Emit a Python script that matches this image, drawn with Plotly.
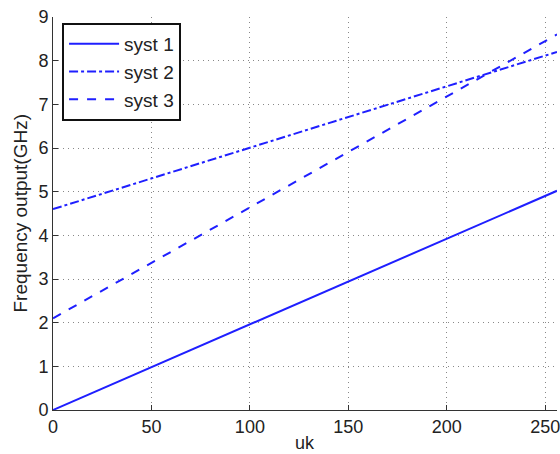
import plotly.graph_objects as go

uk = [0, 50, 100, 150, 200, 256]
syst1 = [0.0, 0.98, 1.96, 2.94, 3.92, 5.02]
syst2 = [4.6, 5.3, 6.0, 6.7, 7.4, 8.2]
syst3 = [2.1, 3.37, 4.64, 5.91, 7.18, 8.6]
names = ["syst 1", "syst 2", "syst 3"]
dashes = ["solid", "dashdot", "dash"]
xticks = [0, 50, 100, 150, 200, 250]
yticks = list(range(0, 10))
xlabel = "uk"
ylabel = "Frequency output(GHz)"

fig = go.Figure()
for nm, ys, d in zip(names, [syst1, syst2, syst3], dashes):
    fig.add_trace(go.Scatter(x=uk, y=ys, mode="lines", name=nm, legendgroup=nm,
                             line=dict(color="#1f1fff", width=2, dash=d)))

fam = "Liberation Sans, Arial, sans-serif"
tickfont = dict(family=fam, size=18, color="#222")
axis_common = dict(showline=True, linecolor="#333", linewidth=1, ticks="inside",
                   ticklen=5, tickcolor="#333", showgrid=True, gridcolor="#888",
                   griddash="1px,4px", gridwidth=1, zeroline=False, mirror=False,
                   tickfont=tickfont, automargin=False, ticklabeloverflow="allow")
L, R, T, B = 53, 3, 17, 44
pw, ph = 560 - L - R, 454 - T - B
fig.update_layout(
    width=560, height=454,
    margin=dict(l=L, r=R, t=T, b=B),
    paper_bgcolor="white", plot_bgcolor="white",
    font=dict(family=fam, size=18, color="#222"),
    showlegend=True,
    legend=dict(x=0.018, y=0.985, xanchor="left", yanchor="top",
                bgcolor="white", bordercolor="#111", borderwidth=2,
                font=dict(family=fam, size=19, color="#222"),
                tracegroupgap=0, itemwidth=50),
    xaxis=dict(range=[0, 256], tickvals=xticks, **axis_common),
    yaxis=dict(range=[0, 9], tickvals=yticks, **axis_common),
    annotations=[
        dict(text=xlabel, xref="paper", yref="paper", x=0.5, y=-(B + 1) / ph,
             xanchor="center", yanchor="bottom", showarrow=False,
             font=dict(family=fam, size=18, color="#222")),
        dict(text=ylabel, xref="paper", yref="paper", x=(20 - L) / pw, y=0.5,
             xanchor="center", yanchor="middle", textangle=-90, showarrow=False,
             font=dict(family=fam, size=19, color="#222")),
    ],
)
fig.write_html("out.html")
